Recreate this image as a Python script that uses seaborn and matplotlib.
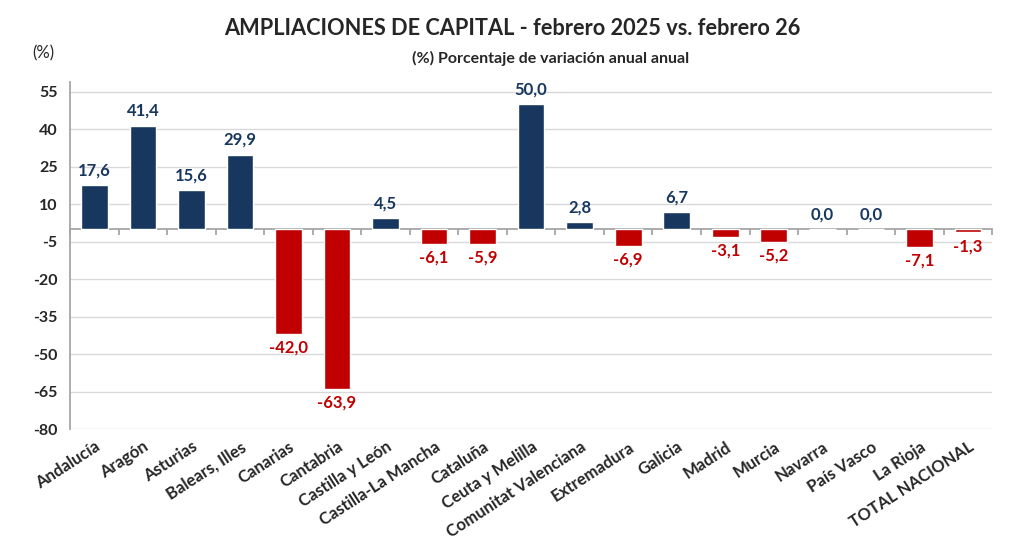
import matplotlib
matplotlib.use('Agg')
import matplotlib.pyplot as plt
import numpy as np
import pandas as pd
import seaborn as sns

# Data
regions = ['Andalucía', 'Aragón', 'Asturias', 'Balears, Illes', 'Canarias', 'Cantabria',
           'Castilla y León', 'Castilla-La Mancha', 'Cataluña', 'Ceuta y Melilla',
           'Comunitat Valenciana', 'Extremadura', 'Galicia', 'Madrid', 'Murcia',
           'Navarra', 'País Vasco', 'La Rioja', 'TOTAL NACIONAL']
values = [17.6, 41.4, 15.6, 29.9, -42.0, -63.9, 4.5, -6.1, -5.9, 50.0,
          2.8, -6.9, 6.7, -3.1, -5.2, 0.0, 0.0, -7.1, -1.3]
yticks = [55, 40, 25, 10, -5, -20, -35, -50, -65, -80]

NAVY = '#17375E'
RED = '#C00000'

df = pd.DataFrame({'region': regions, 'value': values})
df['color'] = np.where(df['value'] >= 0, NAVY, RED)

sns.set_style('white')
plt.rcParams['font.family'] = ['Lato', 'DejaVu Sans']

fig = plt.figure(figsize=(10.24, 5.57), dpi=100)
ax = fig.add_axes([0.0684, 0.2298, 0.9006, 0.6232])

sns.barplot(data=df, x='region', y='value', hue='region',
            palette=dict(zip(df['region'], df['color'])),
            legend=False, width=0.55, saturation=1, ax=ax)

ax.set_ylim(-80, 59)
ax.set_xlim(-0.5, len(regions) - 0.5)
ax.set_yticks(yticks)
ax.set_yticklabels([str(t) for t in yticks], fontsize=11.5, fontweight='bold')
ax.yaxis.grid(True, color='#D9D9D9', linewidth=1)
ax.set_axisbelow(True)

for s in ['top', 'right', 'bottom']:
    ax.spines[s].set_visible(False)
ax.spines['left'].set_color('#A6A6A6')
ax.spines['left'].set_linewidth(1.3)
ax.tick_params(axis='y', direction='out', length=5, color='#A6A6A6', width=1.3, pad=4)

ax.set_xticks(range(len(regions)))
ax.set_xticklabels(regions, rotation=33, ha='right', rotation_mode='anchor',
                   fontsize=12, fontweight='bold')
ax.tick_params(axis='x', length=0, pad=7)
ax.set_xlabel('')
ax.set_ylabel('')

# zero axis line with category separators
zero_ax = ax.secondary_xaxis(0, transform=ax.transData)
zero_ax.spines['bottom'].set_color('#A6A6A6')
zero_ax.spines['bottom'].set_linewidth(1.3)
zero_ax.set_xticks(np.arange(-0.5, len(regions), 1.0))
zero_ax.set_xticklabels([])
zero_ax.tick_params(direction='out', length=4, color='#A6A6A6', width=1.3)

# value labels
for i, v in enumerate(values):
    label = f'{v:.1f}'.replace('.', ',')
    if v >= 0:
        ax.annotate(label, (i, v), xytext=(0, 5), textcoords='offset points',
                    ha='center', va='bottom', color=NAVY, fontsize=12, fontweight='bold')
    else:
        ax.annotate(label, (i, v), xytext=(0, -4), textcoords='offset points',
                    ha='center', va='top', color=RED, fontsize=12, fontweight='bold')

fig.text(0.5, 0.948, 'AMPLIACIONES DE CAPITAL - febrero 2025 vs. febrero 26',
         ha='center', va='center', fontsize=15.7, fontweight='bold')
fig.text(0.538, 0.895, '(%) Porcentaje de variación anual anual',
         ha='center', va='center', fontsize=11.5, fontweight='bold')
fig.text(0.042, 0.905, '(%)', ha='center', va='center', fontsize=12)

fig.savefig('out.png', dpi=100)
